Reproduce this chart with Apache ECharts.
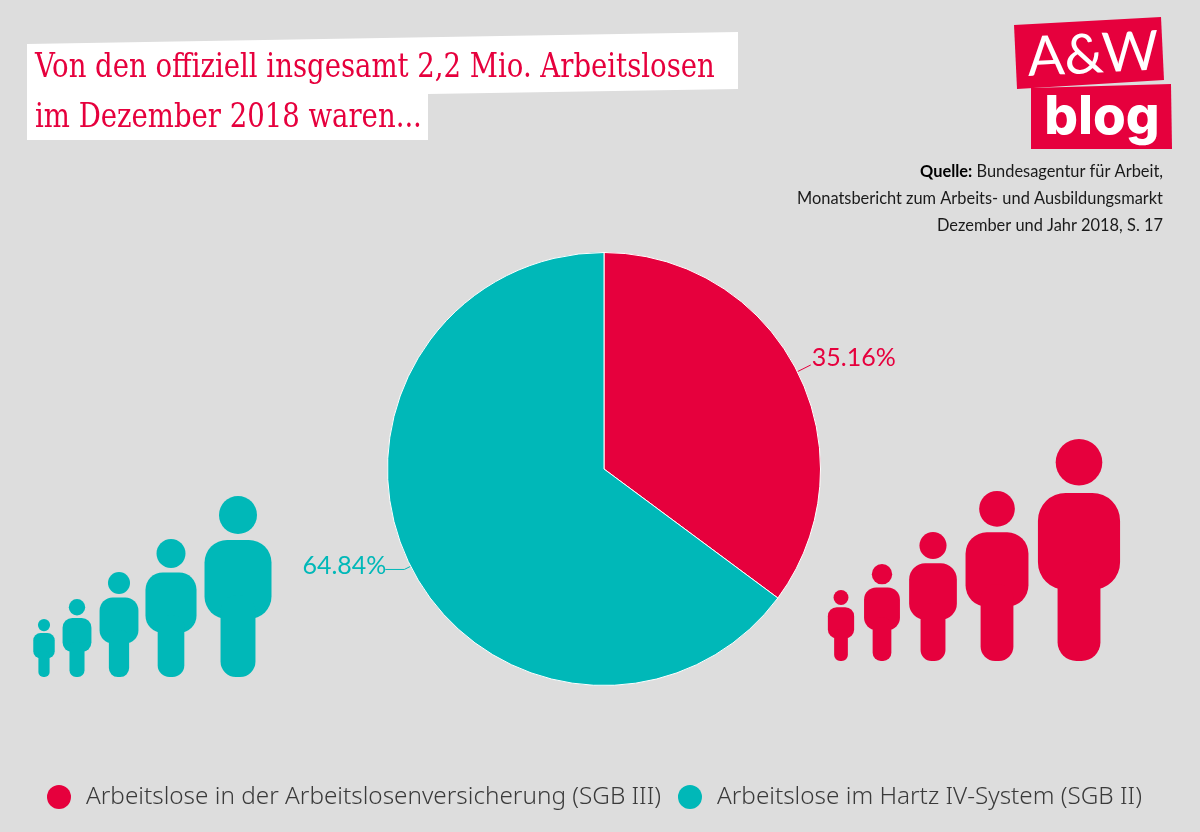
<!DOCTYPE html>
<html>
<head>
<meta charset="utf-8">
<title>Arbeitslose Dezember 2018</title>
<style>
	html, body { margin: 0; padding: 0; background: #dddddd; }
	#chart { width: 1200px; height: 832px; }
</style>
<script src="https://cdn.jsdelivr.net/npm/echarts@6/dist/echarts.min.js"></script>
</head>
<body>
<div id="chart"></div>
<script>
var categories = ['Arbeitslose in der Arbeitslosenversicherung (SGB III)', 'Arbeitslose im Hartz IV-System (SGB II)'];
var shares = [35.16, 64.84];
var titleLines = ['Von den offiziell insgesamt 2,2 Mio. Arbeitslosen', 'im Dezember 2018 waren...'];
var sourceLines = ['{b|Quelle:} Bundesagentur für Arbeit,', 'Monatsbericht zum Arbeits- und Ausbildungsmarkt', 'Dezember und Jahr 2018, S. 17'];

var RED = '#e6003d';
var TEAL = '#00b8b8';

// decorative figures: [center x, top y, height]
var tealPeople = [[44, 619, 58], [77, 599, 78], [119, 572, 105], [171, 539, 138], [238, 496, 181]];
var redPeople = [[841, 590, 71], [882, 564, 97], [933, 532, 129], [997, 491, 170], [1079, 439, 222]];

// per slice label tweaks
var labelShift = [[-4, -7], [6, -4]];
var lineLengths = [[15, 0], [7, 19]];

function person(p, color) {
	var cx = p[0], top = p[1], h = p[2];
	var bodyW = h * 0.37, legW = h * 0.193;
	return {
		type: 'group',
		children: [
			{ type: 'circle', shape: { cx: cx, cy: top + h * 0.105, r: h * 0.105 }, style: { fill: color } },
			{ type: 'rect', shape: { x: cx - bodyW / 2, y: top + h * 0.243, width: bodyW, height: h * 0.437, r: h * 0.125 }, style: { fill: color } },
			{ type: 'rect', shape: { x: cx - legW / 2, y: top + h * 0.55, width: legW, height: h * 0.45, r: h * 0.085 }, style: { fill: color } }
		]
	};
}

function buildGraphic() {
	var items = [
		{ type: 'polygon', shape: { points: [[27, 44], [738, 32], [738, 89], [428, 94], [428, 140], [27, 140]] }, style: { fill: '#ffffff' } },
		{ type: 'polygon', shape: { points: [[1014, 25], [1161, 17], [1164, 80], [1017, 89]] }, style: { fill: RED } },
		{ type: 'polygon', shape: { points: [[1031, 88], [1171, 84], [1172, 149], [1031, 149]] }, style: { fill: RED } },
		{ type: 'text', x: 1093, y: 55, rotation: 0.05, style: { text: 'A&W', fill: '#ffffff', font: '400 55px Lato', align: 'center', verticalAlign: 'middle' } },
		{ type: 'text', x: 1102, y: 118, style: { text: 'blog', fill: '#ffffff', font: '800 53px Inter', align: 'center', verticalAlign: 'middle' } }
	];
	titleLines.forEach(function (line, i) {
		items.push({
			type: 'text', x: 35, y: 68 + i * 50, scaleX: 0.9,
			style: { text: line, fill: RED, font: '34px "DejaVu Serif Condensed", "DejaVu Serif"', verticalAlign: 'middle' }
		});
	});
	sourceLines.forEach(function (line, i) {
		items.push({
			type: 'text', x: 1163, y: 172 + i * 27,
			style: {
				text: line, fill: '#1a1a1a', font: '16.4px Lato', align: 'right', verticalAlign: 'middle',
				rich: { b: { font: 'bold 16.4px Lato', fill: '#000000' } }
			}
		});
	});
	tealPeople.forEach(function (p) { items.push(person(p, TEAL)); });
	redPeople.forEach(function (p) { items.push(person(p, RED)); });
	return items;
}

var chart = echarts.init(document.getElementById('chart'));
chart.setOption({
	animation: false,
	backgroundColor: '#dddddd',
	color: [RED, TEAL],
	legend: {
		left: 47,
		top: 785,
		padding: 0,
		icon: 'circle',
		itemWidth: 24,
		itemHeight: 24,
		itemGap: 17,
		data: categories,
		itemStyle: { borderWidth: 0 },
		textStyle: { color: '#3a3a3a', fontSize: 24.3, fontFamily: 'Noto Sans', fontWeight: 300, padding: [0, 0, 0, 10] }
	},
	series: [{
		type: 'pie',
		center: [604, 469],
		radius: 216.5,
		startAngle: 90,
		itemStyle: { borderColor: '#ffffff', borderWidth: 1 },
		label: {
			formatter: function (p) { return p.value.toFixed(2) + '%'; },
			fontSize: 25,
			fontFamily: 'Lato',
			fontWeight: 400,
			color: 'inherit'
		},
		labelLine: { lineStyle: { width: 1 }, smooth: false },
		labelLayout: function (params) {
			var s = labelShift[params.dataIndex];
			return { dx: s[0], dy: s[1] };
		},
		data: categories.map(function (name, i) {
			return {
				name: name,
				value: shares[i],
				labelLine: { length: lineLengths[i][0], length2: lineLengths[i][1] }
			};
		})
	}],
	graphic: buildGraphic()
});
</script>
</body>
</html>
